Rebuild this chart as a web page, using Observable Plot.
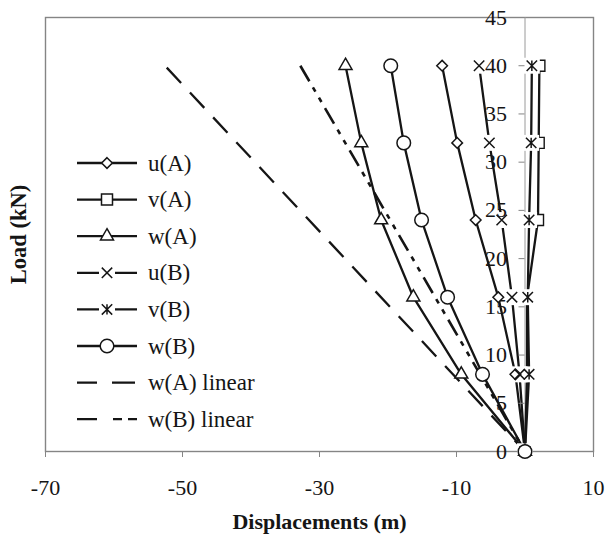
<!DOCTYPE html>
<html><head><meta charset="utf-8">
<script src="https://cdn.jsdelivr.net/npm/d3@7"></script>
<script src="https://cdn.jsdelivr.net/npm/@observablehq/plot@0.6"></script>
<style>
html,body{margin:0;padding:0;background:#fff;}
#chart{width:607px;height:539px;}
</style></head><body><div id="chart"></div>
<script>
// ---- data ----
const loads = [0, 8, 16, 24, 32, 40];
const uA = [0, -1.4, -3.9, -7.2, -9.9, -12.1];
const vA = [0, 0.3, 0.3, 1.9, 2.0, 2.1];
const wA = [0, -9.3, -16.3, -21.0, -23.9, -26.2];
const uB = [0, -0.8, -1.9, -3.4, -5.2, -6.7];
const vB = [0, 0.6, 0.4, 0.6, 0.9, 1.0];
const wB = [0, -6.2, -11.3, -15.1, -17.7, -19.6];
const linearLoadsA = [39.8, 0];
const wALinear = [-52.3, 0];
const linearLoadsB = [40, 0];
const wBLinear = [-32.8, 0];
const seriesNames = ["u(A)", "v(A)", "w(A)", "u(B)", "v(B)", "w(B)", "w(A) linear", "w(B) linear"];
const xTicks = [-70, -50, -30, -10, 10];
const yTicks = [0, 5, 10, 15, 20, 25, 30, 35, 40, 45];
const xTitle = "Displacements (m)";
const yTitle = "Load (kN)";

const W = 607, H = 539, mL = 45, mR = 14, mT = 17, mB = 88;
const font = "'Liberation Serif', 'Times New Roman', serif";
const ink = "#151515";
const gray = "#858585";
const tickFont = 22, legendFont = 23, titleFont = 22;

// Excel-like asterisk: a cross (x) with a vertical bar
const excelStar = {
  draw(ctx, size) {
    const r = Math.sqrt(size / Math.PI);
    ctx.moveTo(-r, -r); ctx.lineTo(r, r);
    ctx.moveTo(-r, r); ctx.lineTo(r, -r);
    ctx.moveTo(0, -r); ctx.lineTo(0, r);
  }
};
const excelTimes = {
  draw(ctx, size) {
    const r = Math.sqrt(size / Math.PI);
    ctx.moveTo(-r, -r); ctx.lineTo(r, r);
    ctx.moveTo(-r, r); ctx.lineTo(r, -r);
  }
};

const rows = (name, xs, ys) => xs.map((x, i) => ({series: name, disp: x, load: ys[i]}));
const markerSeries = [
  {name: seriesNames[0], values: uA, symbol: d3.symbolDiamond2, r: 4.8, halo: false},
  {name: seriesNames[1], values: vA, symbol: d3.symbolSquare2, r: 7, halo: false},
  {name: seriesNames[2], values: wA, symbol: d3.symbolTriangle2, r: 6.2, halo: false},
  {name: seriesNames[3], values: uB, symbol: excelTimes, r: 5.2, halo: true},
  {name: seriesNames[4], values: vB, symbol: excelStar, r: 5.2, halo: true},
  {name: seriesNames[5], values: wB, symbol: d3.symbolCircle, r: 6.8, halo: false}
];
const lineData = markerSeries.flatMap(s => rows(s.name, s.values, loads));
const linA = rows(seriesNames[6], wALinear, linearLoadsA);
const linB = rows(seriesNames[7], wBLinear, linearLoadsB);

const dashA = "21,13";
const dashB = "18,7,5,7,5,7";
const lw = 2.3;

const xScaleTmp = d3.scaleLinear([-70, 10], [mL, W - mR]);
const yAxisDx = xScaleTmp(0) - mL;

const marks = [
  Plot.frame({stroke: gray, strokeWidth: 1.4}),
  Plot.ruleX([0], {stroke: "#9a9a9a", strokeWidth: 1}),
  Plot.axisX(xTicks, {anchor: "bottom", tickSize: 6, tickPadding: 22, tickFormat: d => String(d), stroke: gray, fill: ink, fontSize: tickFont, fontFamily: font, label: null}),
  Plot.line(linA, {x: "disp", y: "load", stroke: ink, strokeWidth: lw, strokeDasharray: dashA, strokeLinecap: "butt"}),
  Plot.line(linB, {x: "disp", y: "load", stroke: ink, strokeWidth: lw + 0.3, strokeDasharray: dashB, strokeLinecap: "butt"}),
  Plot.line(lineData, {x: "disp", y: "load", z: "series", stroke: ink, strokeWidth: lw})
];
// v(A) squares drawn under the halos
marks.push(Plot.dot(rows(seriesNames[1], vA, loads), {x: "disp", y: "load", symbol: d3.symbolSquare2, r: 7, fill: "white", stroke: ink, strokeWidth: 1.4}));
// white halos behind the x / asterisk markers
for (const s of markerSeries.filter(s => s.halo)) {
  marks.push(Plot.dot(rows(s.name, s.values, loads), {x: "disp", y: "load", symbol: "square", r: 9, fill: "white", stroke: "none"}));
}
marks.push(Plot.axisY(yTicks, {anchor: "left", dx: yAxisDx, tickSize: 6, tickPadding: 12, tickFormat: d => String(d), stroke: gray, fill: ink, fontSize: tickFont, fontFamily: font, label: null}));
for (const s of markerSeries.filter(s => s.name !== seriesNames[1])) {
  marks.push(Plot.dot(rows(s.name, s.values, loads), {x: "disp", y: "load", symbol: s.symbol, r: s.r, fill: "white", stroke: ink, strokeWidth: 1.5}));
}
marks.push(Plot.text([xTitle], {frameAnchor: "bottom", dy: 70, textAnchor: "middle", lineAnchor: "middle", text: d => d, fontSize: titleFont, fontWeight: "bold", fontFamily: font, fill: ink}));
marks.push(Plot.text([yTitle], {frameAnchor: "left", dx: -27, rotate: -90, textAnchor: "middle", lineAnchor: "middle", text: d => d, fontSize: titleFont + 0.5, fontWeight: "bold", fontFamily: font, fill: ink}));

const chart = Plot.plot({
  width: W, height: H,
  marginLeft: mL, marginRight: mR, marginTop: mT, marginBottom: mB,
  x: {domain: [-70, 10], axis: null},
  y: {domain: [0, 45], axis: null},
  style: {fontFamily: font, fontSize: tickFont + "px", background: "white", color: ink, overflow: "visible"},
  marks
});
document.getElementById("chart").appendChild(chart);

// ---- legend inside the plot area ----
const svg = d3.select(chart);
const lg = svg.append("g").attr("text-anchor", "start");
const lx0 = 77, lx1 = 137, lxm = 107, ltx = 148, ly0 = 163, lstep = 36.6;
seriesNames.forEach((name, i) => {
  const y = ly0 + i * lstep;
  const g = lg.append("g");
  const line = g.append("line").attr("x1", lx0).attr("x2", lx1).attr("y1", y).attr("y2", y)
    .attr("stroke", ink).attr("stroke-width", lw);
  if (i === 6) line.attr("stroke-dasharray", "20,15,23");
  if (i === 7) line.attr("stroke-dasharray", "20,16,9,6,20");
  const ms = markerSeries[i];
  if (ms) {
    if (ms.halo) {
      g.append("rect").attr("x", lxm - 8).attr("y", y - 8).attr("width", 16).attr("height", 16).attr("fill", "white");
    }
    g.append("path").attr("transform", `translate(${lxm},${y})`)
      .attr("d", d3.symbol(ms.symbol, Math.PI * ms.r * ms.r)())
      .attr("fill", "white").attr("stroke", ink).attr("stroke-width", 1.5);
  }
  g.append("text").attr("x", ltx).attr("y", y).attr("dy", "0.33em").attr("text-anchor", "start")
    .attr("font-family", font).attr("font-size", legendFont).attr("fill", ink).text(name);
});
</script>
</body></html>
